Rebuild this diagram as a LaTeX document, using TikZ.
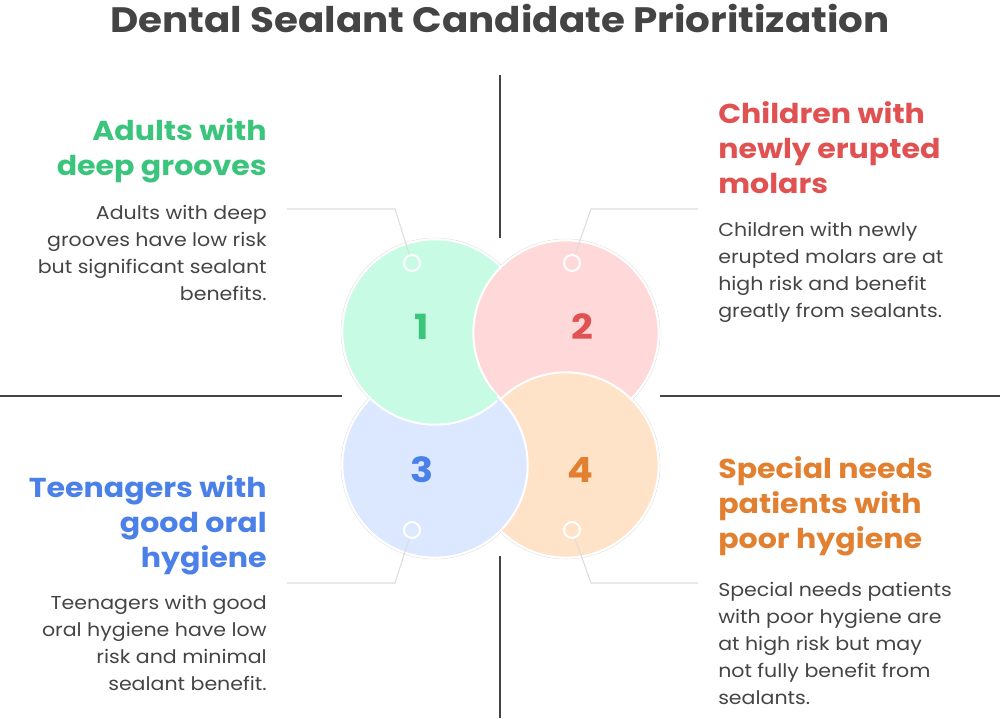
\documentclass[tikz,border=0pt]{standalone}
\usepackage{fontspec}
\setmainfont{Poppins}[FakeStretch=1.1]
\usetikzlibrary{positioning}
\definecolor{ink}{HTML}{444444}
\definecolor{rule}{HTML}{DDDDDD}
\definecolor{gfill}{HTML}{C8FBE3}\definecolor{gtext}{HTML}{3BC57C}
\definecolor{rfill}{HTML}{FFD9D9}\definecolor{rtext}{HTML}{E05252}
\definecolor{bfill}{HTML}{DCE8FF}\definecolor{btext}{HTML}{4A80E8}
\definecolor{ofill}{HTML}{FFE3C8}\definecolor{otext}{HTML}{E08030}
\tikzset{
  disc/.style={circle, draw=white, line width=1.5pt, minimum size=139pt, inner sep=0pt, fill=#1},
  ring/.style={circle, draw=rule, line width=0.4pt, minimum size=141pt, inner sep=0pt},
  digit/.style={font=\fontsize{26}{26}\selectfont\bfseries, text=#1},
  marker/.style={circle, draw=white, line width=1.5pt, minimum size=12pt, inner sep=0pt, fill=#1},
  leader/.style={draw=rule, line width=0.8pt},
  head/.style={font=\fontsize{20.5}{26.5}\selectfont\bfseries, text=#1, inner sep=0pt},
  body/.style={font=\fontsize{14}{20.3}\selectfont, text=ink, inner sep=0pt},
  axis/.style={draw=ink, line width=1.6pt}
}
\begin{document}
\begin{tikzpicture}[x=0.75pt, y=-0.75pt]
\useasboundingbox (0,0) rectangle (1000,718);
\node[font=\fontsize{26.5}{26.5}\selectfont\bfseries, text=ink] (title) at (500,18) {Dental Sealant Candidate Prioritization};

% axes
\draw[axis] (500,75) -- (500,238);
\draw[axis] (500,556) -- (500,718);
\draw[axis] (0,396) -- (342,396);
\draw[axis] (660,396) -- (1000,396);

% circles
\node[ring] at (435,332) {};
\node[ring] at (566,333) {};
\node[ring] at (435,465) {};
\node[ring] at (566,465) {};
\node[disc=gfill] (c1) at (435,332) {};
\node[disc=rfill] (c2) at (566,333) {};
\node[disc=ofill] (c4) at (566,465) {};
\node[disc=bfill] (c3) at (435,465) {};
\begin{scope}
  \clip (330,360) rectangle (497,440);
  \clip (435,465) circle[radius=94];
  \node[disc=gfill] at (435,332) {};
\end{scope}
\node[digit=gtext] (n1) at (422,327) {1};
\node[digit=rtext] (n2) at (582,327) {2};
\node[digit=btext] (n3) at (422,470) {3};
\node[digit=otext] (n4) at (580,470) {4};

% leaders
\coordinate (k1) at (395,209); \coordinate (e1) at (287,209);
\coordinate (k2) at (591,209); \coordinate (e2) at (698,209);
\coordinate (k3) at (395,583); \coordinate (e3) at (287,583);
\coordinate (k4) at (591,583); \coordinate (e4) at (698,583);
\node[marker=gfill] (m1) at (412,263) {};
\node[marker=rfill] (m2) at (572,263) {};
\node[marker=bfill] (m3) at (412,530) {};
\node[marker=ofill] (m4) at (572,530) {};
\draw[leader] (m1) -- (k1) -- (e1);
\draw[leader] (m2) -- (k2) -- (e2);
\draw[leader] (m3) -- (k3) -- (e3);
\draw[leader] (m4) -- (k4) -- (e4);

% texts
\node[head=gtext, align=right, anchor=north east] (h1) at (267,118) {Adults with\\deep grooves};
\node[body, align=right, anchor=north east] (t1) at (267,205) {Adults with deep\\grooves have low risk\\but significant sealant\\benefits.};
\node[head=rtext, align=left, anchor=north west] (h2) at (718,101) {Children with\\newly erupted\\molars};
\node[body, align=left, anchor=north west] (t2) at (718,222) {Children with newly\\erupted molars are at\\high risk and benefit\\greatly from sealants.};
\node[head=btext, align=right, anchor=north east] (h3) at (267,475) {Teenagers with\\good oral\\hygiene};
\node[body, align=right, anchor=north east] (t3) at (267,595) {Teenagers with good\\oral hygiene have low\\risk and minimal\\sealant benefit.};
\node[head=otext, align=left, anchor=north west] (h4) at (718,456) {Special needs\\patients with\\poor hygiene};
\node[body, align=left, anchor=north west] (t4) at (718,582) {Special needs patients\\with poor hygiene are\\at high risk but may\\not fully benefit from\\sealants.};
\end{tikzpicture}
\end{document}
